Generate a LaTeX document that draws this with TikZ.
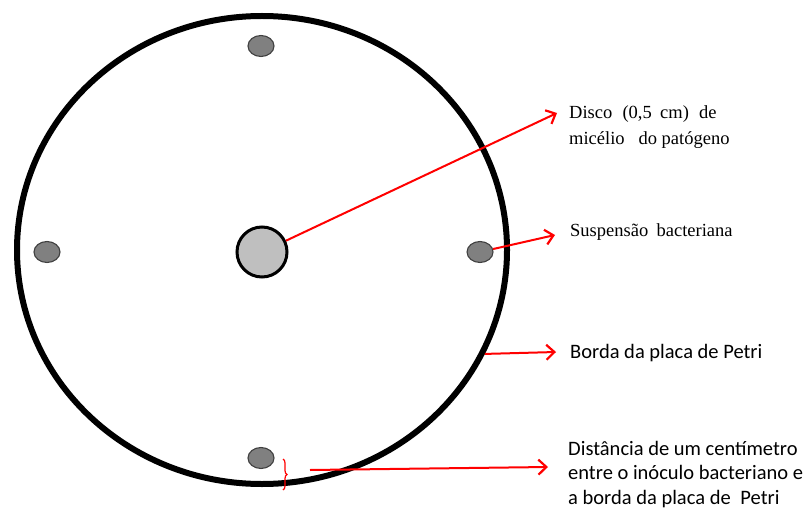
\documentclass[tikz,border=0pt]{standalone}
\usepackage{fontspec}
\setmainfont{Liberation Serif}
\newfontfamily\carlito{Carlito}
\usetikzlibrary{arrows.meta, calc, positioning, shapes.geometric, decorations.pathreplacing}

\begin{document}
\begin{tikzpicture}[x=1pt,y=-1pt,
  inoc/.style={ellipse,draw=black!75,fill=black!50,line width=1.1pt,minimum width=26pt,minimum height=21pt,inner sep=0pt},
  seta/.style={red,line width=2pt,-{Straight Barb[length=8pt,width=15pt,line width=2.2pt]}},
  txtserif/.style={anchor=base west,inner sep=0pt,align=left,font=\fontsize{18.5}{26}\selectfont},
  txtsans/.style={anchor=base west,inner sep=0pt,align=left,font=\carlito\fontsize{20.5}{24.5}\selectfont}]
    \useasboundingbox (0,0) rectangle (811,508);

    %
    \node[ellipse,draw,line width=6pt,minimum width=490pt,minimum height=468pt,inner sep=0pt] (placa) at (262,250) {};
    \node[circle,draw,line width=3pt,fill=black!25,minimum size=50pt,inner sep=0pt] (disco) at (262,252) {};
    \node[inoc] (inoc-top) at (261,46) {};
    \node[inoc] (inoc-left) at (47,252) {};
    \node[inoc] (inoc-right) at (480,252) {};
    \node[inoc] (inoc-bottom) at (261,458) {};

    %
    \coordinate (tip-disco) at (557,113);
    \coordinate (tip-susp) at (555,235);
    \coordinate (tip-borda) at (556,352);
    \coordinate (tip-dist) at (548,467);
    \coordinate (dist-start) at (310,470);

    %
    \node[txtserif] (lbl-disco) at (569,145) {Disco\hspace{0.3em} (0,5\hspace{0.2em} cm)\hspace{0.3em} de\\micélio\hspace{0.5em}  do patógeno};
    \node[txtserif] (lbl-susp) at (570,236) {Suspensão\hspace{0.2em} bacteriana};
    \node[txtsans] (lbl-borda) at (570,358) {Borda da placa de Petri};
    \node[txtsans] (lbl-dist) at (568,504) {Distância de um centímetro\\entre o inóculo bacteriano e\\a borda da placa de\hspace{0.25em} Petri};

    %
    \draw[seta] (disco) -- (tip-disco);
    \draw[seta] (inoc-right) -- (tip-susp);
    \draw[seta] (placa.-25) -- (tip-borda);
    \draw[seta] (dist-start) -- (tip-dist);
    \draw[red,line width=1.2pt,decorate,decoration={brace,amplitude=4pt}] (283,459) -- (283,490);
\end{tikzpicture}
\end{document}
